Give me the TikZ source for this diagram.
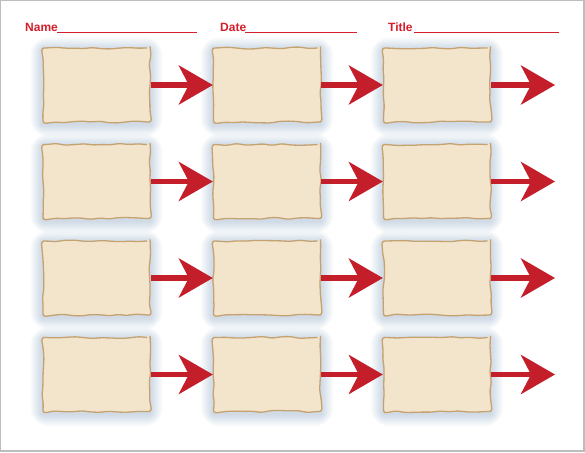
\documentclass[tikz,border=0pt]{standalone}
\usepackage{fontspec}
\setmainfont{Liberation Sans}
\usetikzlibrary{arrows.meta,backgrounds,decorations.pathmorphing}
\definecolor{hdred}{HTML}{D21F2B}
\definecolor{paper}{HTML}{F3E4CC}
\definecolor{paperedge}{HTML}{C4A271}
\definecolor{glow}{HTML}{7E9FBF}
\definecolor{arrred}{HTML}{C41E2A}
\definecolor{frame}{HTML}{BDBDBD}
\tikzset{
  card/.style={draw=paperedge, line width=1.3pt, fill=paper,
    minimum width=107pt, minimum height=74pt, inner sep=0pt,
    decorate, decoration={random steps, segment length=9pt, amplitude=1pt},
    rounded corners=3pt},
  glowring/.style={fill=glow, fill opacity=0.03, draw=none},
  flow/.style={draw=arrred, line width=5.5pt,
    -{Stealth[length=34pt, width=39pt, inset=10pt, fill=arrred]}},
  label/.style={anchor=base west, inner sep=0pt, text=hdred, font=\bfseries\fontsize{12}{14}\selectfont},
  rule/.style={draw=hdred, line width=1.6pt}
}
\begin{document}
\begin{tikzpicture}[x=1pt, y=-1pt]
\pgfmathsetseed{7}
\useasboundingbox (0,0) rectangle (585,452);
\begin{scope}[on background layer]
\fill[white] (0,0) rectangle (585,452);
\end{scope}
\draw[frame, line width=1.2pt] (0.8,0.8) rectangle (584,451);
% header
\node[label] (name) at (25,32) {Name};
\node[label] (date) at (220,32) {Date};
\node[label] (title) at (388,32) {Title};
\coordinate (n1) at (57,32.5); \coordinate (n2) at (197,32.5);
\coordinate (d1) at (245,32.5); \coordinate (d2) at (357,32.5);
\coordinate (t1) at (414,32.5); \coordinate (t2) at (559,32.5);
\draw[rule] (n1) -- (n2);
\draw[rule] (d1) -- (d2);
\draw[rule] (t1) -- (t2);
% cards
\foreach \r/\yy in {1/85,2/181.5,3/278,4/374.5}{
  \node[card] (c\r a) at (96.5,\yy) {};
  \node[card] (c\r b) at (267,\yy) {};
  \node[card] (c\r c) at (437,\yy) {};
  \coordinate (e\r) at (555,\yy);
  \begin{scope}[on background layer]
    \foreach \cc in {a,b,c}{
      \foreach \k in {1,2,...,12}{
        \fill[glowring, rounded corners={1.5*\k pt}]
          ([xshift=-\k pt, yshift=\k pt-2pt]c\r\cc.north west) rectangle
          ([xshift=\k pt, yshift=-\k pt-2pt]c\r\cc.south east);
      }
    }
  \end{scope}
  \draw[flow] (c\r a.east) -- (c\r b.west);
  \draw[flow] (c\r b.east) -- (c\r c.west);
  \draw[flow] (c\r c.east) -- (e\r);
}
\end{tikzpicture}
\end{document}
